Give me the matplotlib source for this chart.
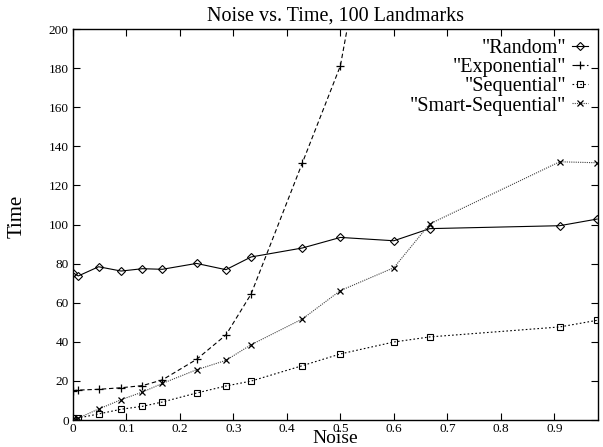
import matplotlib
matplotlib.use("Agg")
import matplotlib.pyplot as plt

plt.rcParams["font.family"] = ["Liberation Serif", "DejaVu Serif"]

# Noise levels (x) for each series
noise = [0.0, 0.01, 0.048, 0.09, 0.13, 0.167, 0.231, 0.286, 0.333, 0.429, 0.5, 0.6, 0.667, 0.91, 0.98]

random_time = [75.3, 73.7, 78.4, 76.2, 77.4, 77.1, 80.1, 76.9, 83.4, 88.0, 93.4, 91.7, 97.9, 99.4, 102.8]
sequential_time = [1.0, 1.0, 3.1, 5.5, 7.0, 9.2, 13.8, 17.4, 19.9, 27.8, 33.8, 39.9, 42.5, 47.6, 51.0]
smart_time = [0.5, 1.0, 5.6, 10.4, 14.3, 18.7, 25.7, 30.5, 38.5, 51.7, 66.2, 77.9, 100.3, 132.1, 131.6]

# Exponential runs off the top of the chart after 0.5
exp_noise = [0.0, 0.01, 0.048, 0.09, 0.13, 0.167, 0.231, 0.286, 0.333, 0.429, 0.5, 0.6]
exp_time = [15.0, 15.3, 15.7, 16.5, 17.6, 20.5, 31.0, 43.5, 64.4, 131.6, 181.2, 330.0]

xticks = [0, 0.1, 0.2, 0.3, 0.4, 0.5, 0.6, 0.7, 0.8, 0.9]
xticklabels = ["0", "0.1", "0.2", "0.3", "0.4", "0.5", "0.6", "0.7", "0.8", "0.9"]
yticks = list(range(0, 201, 20))

fig = plt.figure(figsize=(6.03, 4.47), dpi=100)
ax = fig.add_axes([0.121, 0.0604, 0.871, 0.8746])

lw = 0.8
ax.plot(noise, random_time, color="black", lw=lw, ls="-", marker="D", ms=4,
        mfc="none", mew=0.8, label='"Random"')
ax.plot(exp_noise, exp_time, color="black", lw=lw, ls=(0, (4, 2.5)), marker="+", ms=6,
        mew=0.9, label='"Exponential"')
ax.plot(noise, sequential_time, color="black", lw=lw, ls=(0, (1.5, 2)), marker="s", ms=5,
        mfc="none", mew=0.8, label='"Sequential"')
ax.plot(noise, smart_time, color="#444444", lw=lw, ls=(0, (1, 1)), marker="x", ms=5,
        mec="black", mew=0.9, label='"Smart-Sequential"')

ax.set_xlim(0, 0.982)
ax.set_ylim(0, 200)
ax.set_xticks(xticks)
ax.set_xticklabels(xticklabels)
ax.set_yticks(yticks)
ax.tick_params(direction="in", top=True, right=True, length=5, width=0.8,
               labelsize=9.5, pad=3)
ax.tick_params(axis="x", pad=2)
for s in ax.spines.values():
    s.set_linewidth(1.0)

ax.set_title("Noise vs. Time, 100 Landmarks", fontsize=14.5, pad=6)
ax.set_xlabel("Noise", fontsize=14)
ax.xaxis.set_label_coords(0.5, -0.026)
ax.set_ylabel("Time", fontsize=15)
ax.yaxis.set_label_coords(-0.088, 0.52)

ax.legend(loc="upper right", markerfirst=False, frameon=False, fontsize=14.5,
          handlelength=0.8, handletextpad=0.3, labelspacing=0.0,
          borderaxespad=0.2, borderpad=0.3)

fig.savefig("out.png", dpi=100)
